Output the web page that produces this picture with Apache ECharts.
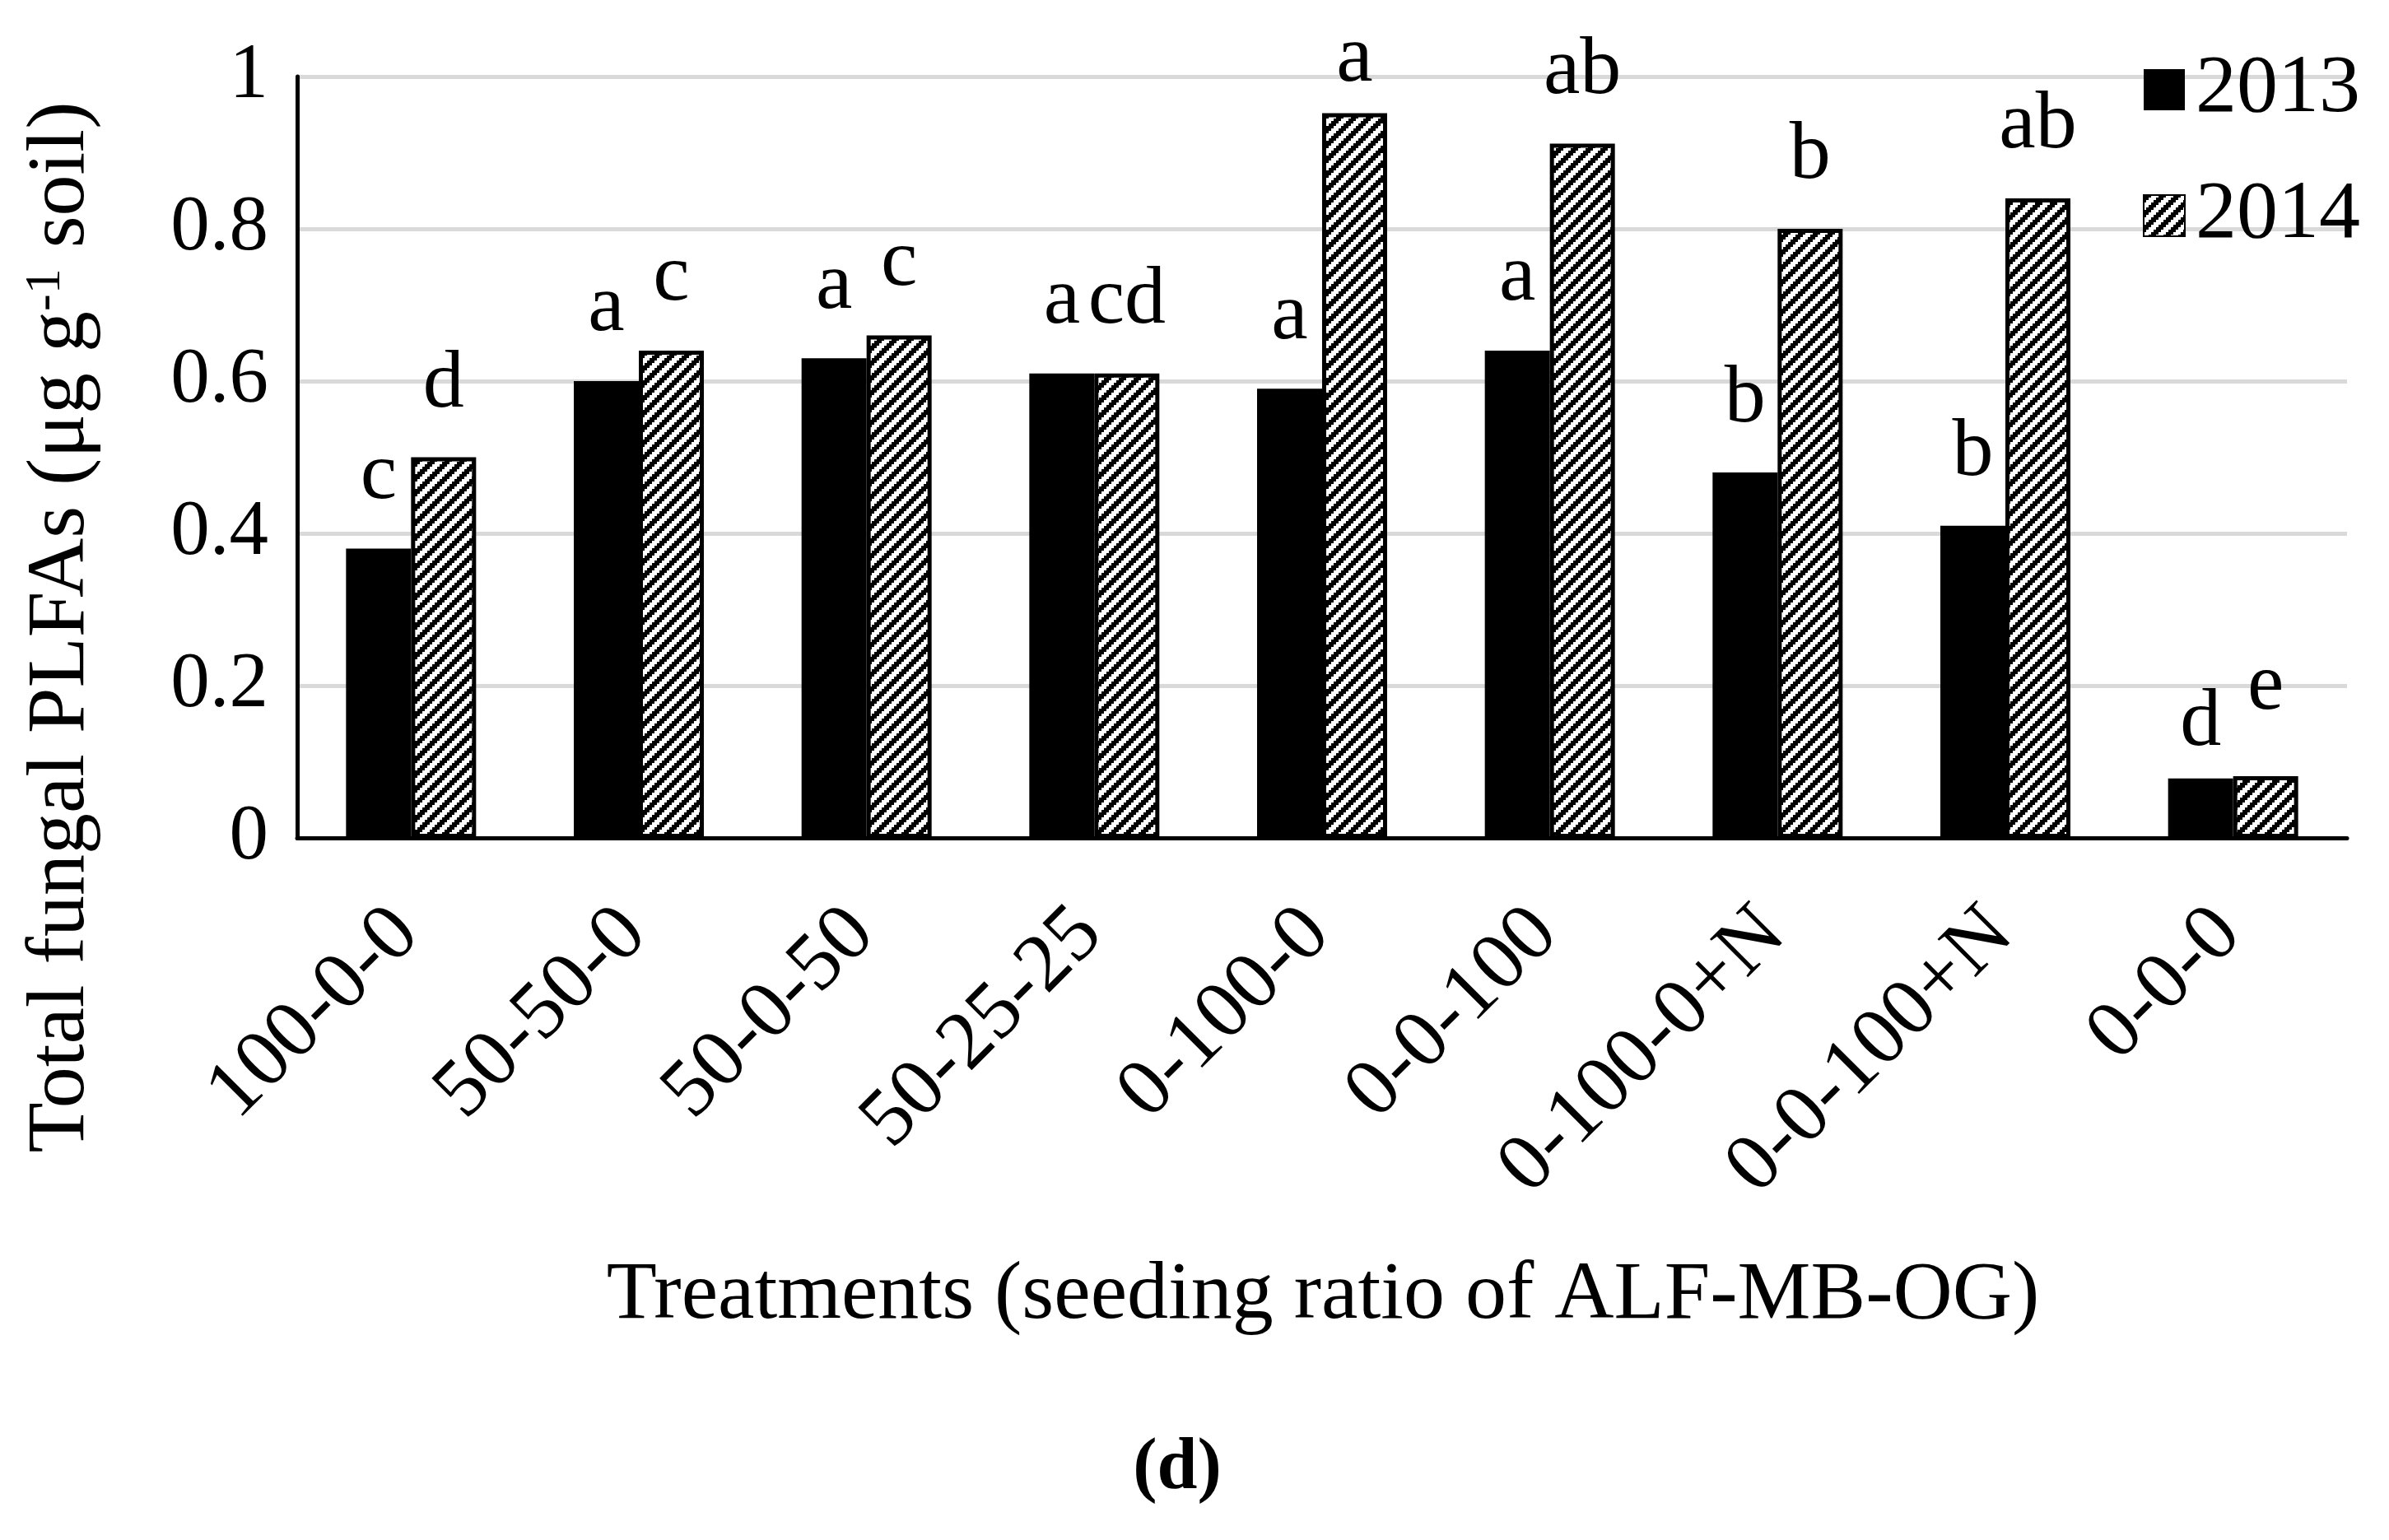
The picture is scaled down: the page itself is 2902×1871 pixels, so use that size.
<!DOCTYPE html>
<html>
<head>
<meta charset="utf-8">
<script src="https://cdn.jsdelivr.net/npm/echarts@6/dist/echarts.min.js"></script>
<style>
  html, body { margin: 0; padding: 0; background: #fff; }
  #chart { width: 2902px; height: 1871px; }
</style>
</head>
<body>
<div id="chart"></div>
<script>
// ---- data ----
const categories = ['100-0-0', '50-50-0', '50-0-50', '50-25-25', '0-100-0', '0-0-100', '0-100-0+N', '0-0-100+N', '0-0-0'];
const seriesNames = ['2013', '2014'];
const values2013 = [0.38, 0.60, 0.63, 0.61, 0.59, 0.64, 0.48, 0.41, 0.078];
const values2014 = [0.50, 0.64, 0.66, 0.61, 0.952, 0.912, 0.80, 0.84, 0.081];
const letters2013 = ['c', 'a', 'a', 'a', 'a', 'a', 'b', 'b', 'd'];
const letters2014 = ['d', 'c', 'c', 'cd', 'a', 'ab', 'b', 'ab', 'e'];
const yMin = 0, yMax = 1, yInterval = 0.2;
const xTitle = 'Treatments (seeding ratio of ALF-MB-OG)';
const yTitle = 'Total fungal PLFAs (\u03bcg g{sup|-1} soil)';
const caption = '(d)';

// ---- styling ----
const FONT = "'Liberation Serif', 'Times New Roman', serif";

function makeHatch() {
  const block = 3, blocks = 6;
  const size = block * blocks;
  const c = document.createElement('canvas');
  c.width = size; c.height = size;
  const ctx = c.getContext('2d');
  ctx.fillStyle = '#fff';
  ctx.fillRect(0, 0, size, size);
  ctx.fillStyle = '#000';
  for (let bx = 0; bx < blocks; bx++) {
    for (let by = 0; by < blocks; by++) {
      if ((bx + by) % blocks < 3) ctx.fillRect(bx * block, by * block, block, block);
    }
  }
  return c;
}
const hatch = makeHatch();

// label distances (layout only)
const dist2013 = [38, 38, 38, 38, 38, 38, 38, 38, 17];
const dist2014 = [38, 38, 38, 38, 16, 38, 38, 38, 58];

const labelStyle = {
  show: true,
  position: 'top',
  fontFamily: FONT,
  fontSize: 100,
  color: '#000'
};

const chart = echarts.init(document.getElementById('chart'), null, { renderer: 'canvas' });
chart.setOption({
  backgroundColor: '#fff',
  animation: false,
  grid: { left: 361, right: 51, top: 93, bottom: 853, containLabel: false, outerBoundsMode: 'none' },
  legend: {
    data: seriesNames,
    orient: 'vertical',
    left: 2598,
    top: 54,
    itemWidth: 50,
    itemHeight: 50,
    itemGap: 53,
    icon: 'rect',
    textStyle: { fontFamily: FONT, fontSize: 100, color: '#000', lineHeight: 100, padding: [0, 0, 0, 8] }
  },
  xAxis: {
    type: 'category',
    data: categories,
    axisLine: { show: true, lineStyle: { color: '#000', width: 5 } },
    axisTick: { show: false },
    splitLine: { show: false },
    axisLabel: {
      interval: 0,
      rotate: 45,
      margin: 96,
      padding: [0, 8, 0, 0],
      fontFamily: FONT,
      fontSize: 100,
      color: '#000'
    }
  },
  yAxis: {
    type: 'value',
    min: yMin,
    max: yMax,
    interval: yInterval,
    axisLine: { show: true, lineStyle: { color: '#000', width: 5 } },
    axisTick: { show: false },
    splitLine: { show: true, lineStyle: { color: '#d9d9d9', width: 5 } },
    axisLabel: { margin: 35, fontFamily: FONT, fontSize: 95, color: '#000' }
  },
  graphic: [
    {
      type: 'text',
      x: 75, y: 762,
      rotation: Math.PI / 2,
      style: {
        text: yTitle,
        x: 0, y: 0,
        align: 'center', verticalAlign: 'middle',
        textAlign: 'center', textVerticalAlign: 'middle',
        fontFamily: FONT, fontSize: 100, fill: '#000',
        rich: {
          sup: { fontFamily: FONT, fontSize: 62, verticalAlign: 'top', lineHeight: 100 }
        }
      }
    },
    {
      type: 'text',
      x: 1607, y: 1575,
      style: {
        text: xTitle, x: 0, y: 0,
        align: 'center', verticalAlign: 'middle',
        textAlign: 'center', textVerticalAlign: 'middle',
        fontFamily: FONT, fontSize: 100, fill: '#000'
      }
    },
    {
      type: 'text',
      x: 1430, y: 1785,
      style: {
        text: caption, x: 0, y: 0,
        align: 'center', verticalAlign: 'middle',
        textAlign: 'center', textVerticalAlign: 'middle',
        fontFamily: FONT, fontSize: 88, fontWeight: 'bold', fill: '#000'
      }
    }
  ],
  series: [
    {
      name: seriesNames[0],
      type: 'bar',
      barWidth: 79,
      barGap: '0%',
      itemStyle: { color: '#000' },
      label: Object.assign({}, labelStyle, { formatter: p => letters2013[p.dataIndex] }),
      data: values2013.map((v, i) => ({ value: v, label: { distance: dist2013[i] } }))
    },
    {
      name: seriesNames[1],
      type: 'bar',
      barWidth: 79,
      barGap: '0%',
      itemStyle: { color: { image: hatch, repeat: 'repeat' }, borderColor: '#000', borderWidth: 5 },
      label: Object.assign({}, labelStyle, { formatter: p => letters2014[p.dataIndex] }),
      data: values2014.map((v, i) => ({ value: v, label: { distance: dist2014[i] } }))
    }
  ]
});
</script>
</body>
</html>
